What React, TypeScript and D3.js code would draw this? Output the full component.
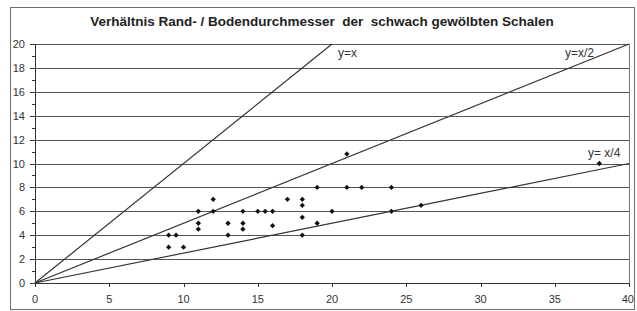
import React, { useEffect, useRef } from "react";
import * as d3 from "d3";

// measured points (Randdurchmesser, Bodendurchmesser)
const randValues = [9, 9.5, 9, 10, 11, 11, 11, 12, 12, 13, 13, 14, 14, 14, 15, 15.5, 16, 16, 17, 18, 18, 18, 18, 19, 19, 20, 21, 21, 22, 24, 24, 26, 38];
const bodenValues = [4, 4, 3, 3, 6, 5, 4.5, 7, 6, 5, 4, 6, 5, 4.5, 6, 6, 6, 4.8, 7, 7, 6.5, 5.5, 4, 8, 5, 6, 8, 10.8, 8, 8, 6, 6.5, 10];

// reference lines: label, divisor
const refLabels = ["y=x", "y=x/2", "y= x/4"];
const refDivisors = [1, 2, 4];

const xTicks = [0, 5, 10, 15, 20, 25, 30, 35, 40];
const yTicks = [0, 2, 4, 6, 8, 10, 12, 14, 16, 18, 20];
const yMinor = [1, 3, 5, 7, 9, 11, 13, 15, 17, 19];

const title = "Verhältnis Rand- / Bodendurchmesser  der  schwach gewölbten Schalen";

const App = () => {
  const ref = useRef(null);

  useEffect(() => {
    const width = 637,
      height = 311;
    const svg = d3.select(ref.current);
    svg.selectAll("*").remove();

    const font = "'Liberation Sans', Arial, sans-serif";

    const x = d3.scaleLinear().domain([0, 40]).range([35, 629]);
    const y = d3.scaleLinear().domain([0, 20]).range([283, 44]);

    svg.append("rect").attr("width", width).attr("height", height).attr("fill", "#fff");

    // outer chart frame
    svg
      .append("rect")
      .attr("x", 10.5)
      .attr("y", 7.5)
      .attr("width", 624)
      .attr("height", 302)
      .attr("fill", "#fff")
      .attr("stroke", "#6e6e6e")
      .attr("stroke-width", 1);

    // title
    svg
      .append("text")
      .attr("x", 322)
      .attr("y", 26)
      .attr("text-anchor", "middle")
      .attr("font-family", font)
      .attr("font-size", 13.5)
      .attr("font-weight", "bold")
      .attr("fill", "#222")
      .style("white-space", "pre")
      .text(title);

    // grid lines
    svg
      .selectAll(".grid")
      .data(yTicks.filter((d) => d > 0))
      .join("line")
      .attr("class", "grid")
      .attr("x1", x(0))
      .attr("x2", x(40))
      .attr("y1", (d) => Math.round(y(d)) + 0.5)
      .attr("y2", (d) => Math.round(y(d)) + 0.5)
      .attr("stroke", "#555")
      .attr("stroke-width", 1);

    // right border of plot
    svg
      .append("line")
      .attr("x1", Math.round(x(40)) + 0.5)
      .attr("x2", Math.round(x(40)) + 0.5)
      .attr("y1", y(20))
      .attr("y2", y(0))
      .attr("stroke", "#777");

    // reference lines
    refDivisors.forEach((div) => {
      const xEnd = Math.min(40, 20 * div);
      svg
        .append("line")
        .attr("x1", x(0))
        .attr("y1", y(0))
        .attr("x2", x(xEnd))
        .attr("y2", y(xEnd / div))
        .attr("stroke", "#333")
        .attr("stroke-width", 1.2);
    });

    const labelPos = [
      [338, 57],
      [565, 57],
      [588, 157],
    ];
    refLabels.forEach((t, i) => {
      svg
        .append("text")
        .attr("x", labelPos[i][0])
        .attr("y", labelPos[i][1])
        .attr("font-family", font)
        .attr("font-size", 12)
        .attr("fill", "#333")
        .style("white-space", "pre")
        .text(t);
    });

    // axes
    svg
      .append("line")
      .attr("x1", x(0) + 0.5)
      .attr("x2", x(0) + 0.5)
      .attr("y1", y(20))
      .attr("y2", y(0))
      .attr("stroke", "#333");
    svg
      .append("line")
      .attr("x1", x(0))
      .attr("x2", x(40))
      .attr("y1", Math.round(y(0)) + 0.5)
      .attr("y2", Math.round(y(0)) + 0.5)
      .attr("stroke", "#333");

    svg
      .selectAll(".ytick")
      .data(yTicks)
      .join("line")
      .attr("x1", x(0) - 5)
      .attr("x2", x(0))
      .attr("y1", (d) => Math.round(y(d)) + 0.5)
      .attr("y2", (d) => Math.round(y(d)) + 0.5)
      .attr("stroke", "#333");
    svg
      .selectAll(".yminor")
      .data(yMinor)
      .join("line")
      .attr("x1", x(0) - 3)
      .attr("x2", x(0))
      .attr("y1", (d) => Math.round(y(d)) + 0.5)
      .attr("y2", (d) => Math.round(y(d)) + 0.5)
      .attr("stroke", "#333");
    svg
      .selectAll(".ylabel")
      .data(yTicks)
      .join("text")
      .attr("x", 25)
      .attr("y", (d) => y(d) + 4)
      .attr("text-anchor", "end")
      .attr("font-family", font)
      .attr("font-size", 11)
      .attr("fill", "#333")
      .text((d) => d);

    svg
      .selectAll(".xtick")
      .data(xTicks)
      .join("line")
      .attr("x1", (d) => Math.round(x(d)) + 0.5)
      .attr("x2", (d) => Math.round(x(d)) + 0.5)
      .attr("y1", y(0))
      .attr("y2", y(0) + 4)
      .attr("stroke", "#333");
    svg
      .selectAll(".xlabel")
      .data(xTicks)
      .join("text")
      .attr("x", (d) => (d === 40 ? x(d) + 5 : x(d)))
      .attr("y", 303)
      .attr("text-anchor", (d) => (d === 40 ? "end" : "middle"))
      .attr("font-family", font)
      .attr("font-size", 11)
      .attr("fill", "#333")
      .text((d) => d);

    // data points
    const pts = randValues.map((r, i) => ({ r, b: bodenValues[i] }));
    const sym = d3.symbol(d3.symbolSquare, 14);
    svg
      .selectAll(".pt")
      .data(pts)
      .join("path")
      .attr("class", "pt")
      .attr("d", sym)
      .attr("transform", (d) => `translate(${x(d.r)},${y(d.b)}) rotate(45)`)
      .attr("fill", "#111");
  }, []);

  return (
    <svg
      ref={ref}
      width={637}
      height={311}
      style={{ position: "absolute", left: 0, top: 0 }}
    />
  );
};

export default App;
